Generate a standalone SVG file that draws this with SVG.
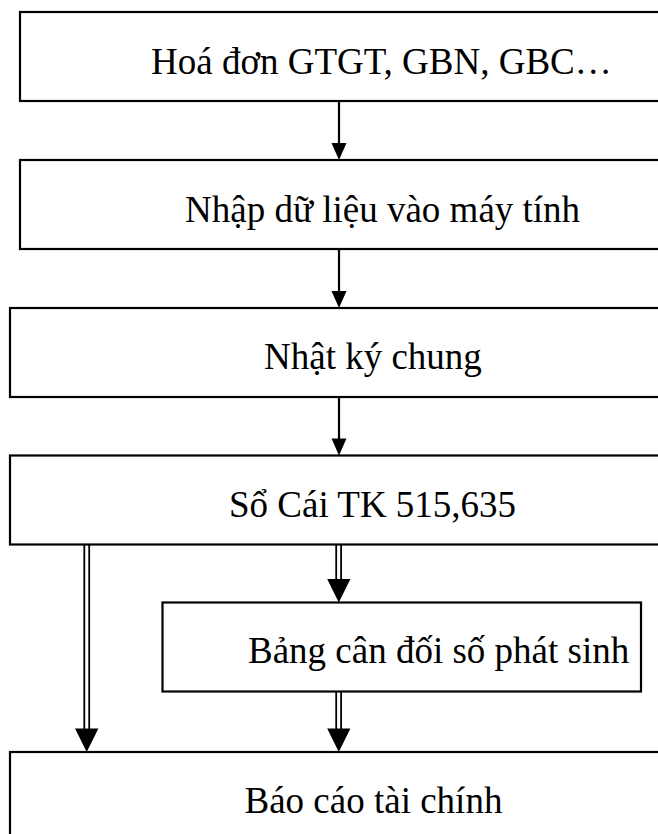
<svg xmlns="http://www.w3.org/2000/svg" width="658" height="834" viewBox="0 0 658 834">
  <style>
    .box { fill: #ffffff; stroke: #000000; stroke-width: 2.2; }
    .label { font-family: "Liberation Serif", "Times New Roman", serif; font-size: 37px; fill: #000000; }
    .line { stroke: #000000; stroke-width: 2.2; fill: none; }
    .rail { stroke: #000000; stroke-width: 1.8; fill: none; }
    .head { fill: #000000; stroke: none; }
  </style>
  <rect width="658" height="834" fill="#ffffff"/>

  <g id="node-hoa-don">
    <rect class="box" x="20" y="12" width="660" height="89"/>
    <text class="label" x="151" y="74">Hoá đơn GTGT, GBN, GBC…</text>
  </g>

  <g id="node-nhap-du-lieu">
    <rect class="box" x="20" y="160" width="660" height="89"/>
    <text class="label" x="185" y="222">Nhập dữ liệu vào máy tính</text>
  </g>

  <g id="node-nhat-ky-chung">
    <rect class="box" x="10" y="308" width="670" height="89"/>
    <text class="label" x="264" y="369">Nhật ký chung</text>
  </g>

  <g id="node-so-cai">
    <rect class="box" x="10" y="455.5" width="670" height="89"/>
    <text class="label" x="229" y="517">Sổ Cái TK 515,635</text>
  </g>

  <g id="node-bang-can-doi">
    <rect class="box" x="162.5" y="602.5" width="478.5" height="89"/>
    <text class="label" x="248" y="663">Bảng cân đối số phát sinh</text>
  </g>

  <g id="node-bao-cao">
    <rect class="box" x="10" y="752" width="670" height="100"/>
    <text class="label" x="244.5" y="813">Báo cáo tài chính</text>
  </g>

  <g id="connectors">
    <!-- single arrows down the main column -->
    <line class="line" x1="339" y1="101" x2="339" y2="145"/>
    <polygon class="head" points="331.5,143 346.5,143 339,160"/>
    <line class="line" x1="339" y1="249" x2="339" y2="293"/>
    <polygon class="head" points="331.5,291 346.5,291 339,308"/>
    <line class="line" x1="339" y1="397" x2="339" y2="440"/>
    <polygon class="head" points="331.5,438.5 346.5,438.5 339,455.5"/>

    <!-- double arrow: ledger to financial report -->
    <line class="rail" x1="84.3" y1="545" x2="84.3" y2="730"/>
    <line class="rail" x1="89.2" y1="545" x2="89.2" y2="730"/>
    <polygon class="head" points="75,728.5 98.4,728.5 86.7,752"/>

    <!-- double arrow: ledger to trial balance -->
    <line class="rail" x1="336.2" y1="545" x2="336.2" y2="581"/>
    <line class="rail" x1="341.1" y1="545" x2="341.1" y2="581"/>
    <polygon class="head" points="327.2,579 350.4,579 338.8,602.5"/>

    <!-- double arrow: trial balance to financial report -->
    <line class="rail" x1="336.2" y1="692" x2="336.2" y2="730"/>
    <line class="rail" x1="341.1" y1="692" x2="341.1" y2="730"/>
    <polygon class="head" points="327.2,728.5 350.4,728.5 338.8,752"/>
  </g>
</svg>
